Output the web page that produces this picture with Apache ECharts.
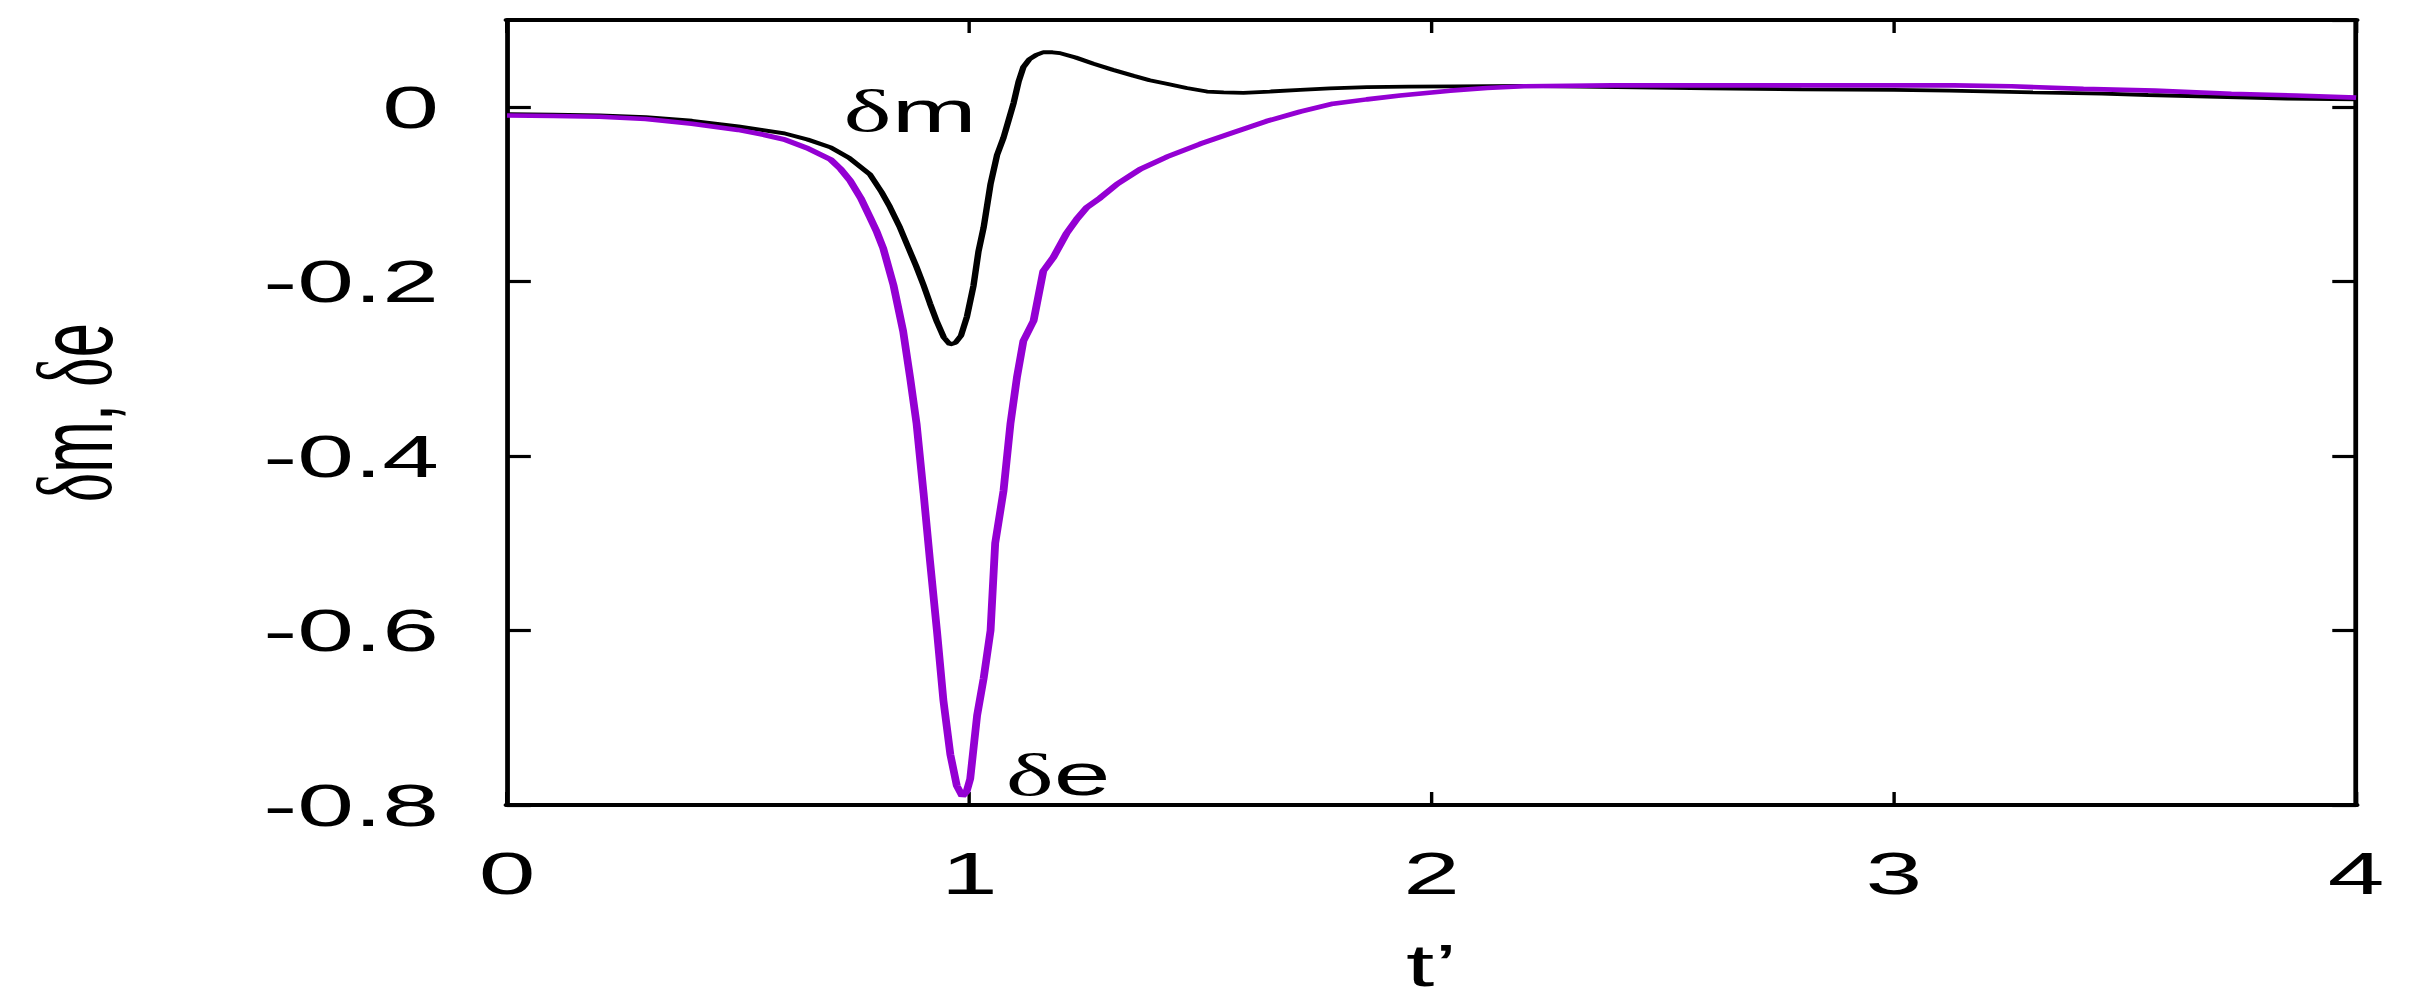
<!DOCTYPE html>
<html>
<head>
<meta charset="utf-8">
<title>dm de</title>
<script src="https://cdn.jsdelivr.net/npm/echarts@6.0.0/dist/echarts.min.js"></script>
<style>
  html, body { margin: 0; padding: 0; background: #fff; overflow: hidden; }
  /* the original figure is stretched horizontally, so we draw narrow and stretch */
  #chart { width: 1418px; height: 1007px; transform: scaleX(1.70028); transform-origin: 0 0; }
</style>
</head>
<body>
<div id="chart"></div>
<script>
// delta m (black curve)
const mTime = [0, 0.1, 0.2, 0.3, 0.4, 0.5, 0.55, 0.6, 0.65, 0.7, 0.74, 0.785, 0.81, 0.828, 0.85,
  0.865, 0.885, 0.901, 0.915, 0.93, 0.945, 0.958, 0.97, 0.982, 0.995, 1.009, 1.02, 1.031, 1.046,
  1.06, 1.074, 1.085, 1.096, 1.107, 1.117, 1.13, 1.145, 1.16, 1.18, 1.196, 1.23, 1.268, 1.31,
  1.355, 1.39, 1.427, 1.47, 1.514, 1.55, 1.593, 1.65, 1.716, 1.78, 1.86, 1.95, 2.05, 2.2, 2.4,
  2.6, 2.8, 3.0, 3.12, 3.3, 3.45, 3.55, 3.7, 3.85, 4.0];
const mValue = [-0.008, -0.0085, -0.0095, -0.0115, -0.0155, -0.022, -0.026, -0.030, -0.037, -0.046,
  -0.058, -0.077, -0.097, -0.114, -0.138, -0.157, -0.182, -0.204, -0.225, -0.246, -0.264, -0.272,
  -0.270, -0.262, -0.240, -0.205, -0.165, -0.138, -0.088, -0.055, -0.035, -0.015, 0.005, 0.030,
  0.046, 0.055, 0.060, 0.063, 0.063, 0.062, 0.057, 0.050, 0.043, 0.036, 0.031, 0.027, 0.022,
  0.018, 0.017, 0.0165, 0.018, 0.020, 0.0215, 0.023, 0.0235, 0.024, 0.0245, 0.023, 0.0215,
  0.0205, 0.020, 0.019, 0.017, 0.0155, 0.014, 0.012, 0.010, 0.009];

// delta e (purple curve)
const eTime = [0, 0.1, 0.2, 0.3, 0.4, 0.5, 0.55, 0.6, 0.65, 0.7, 0.722, 0.742, 0.765, 0.785, 0.8,
  0.814, 0.836, 0.857, 0.872, 0.886, 0.901, 0.915, 0.93, 0.944, 0.959, 0.973, 0.985, 0.994, 1.002,
  1.017, 1.031, 1.046, 1.056, 1.074, 1.089, 1.103, 1.117, 1.139, 1.16, 1.182, 1.21, 1.233, 1.254,
  1.283, 1.32, 1.37, 1.427, 1.5, 1.571, 1.643, 1.716, 1.787, 1.86, 1.932, 2.04, 2.12, 2.2, 2.39,
  2.6, 2.9, 3.13, 3.255, 3.41, 3.565, 3.73, 3.87, 4.0];
const eValue = [-0.0095, -0.010, -0.011, -0.0135, -0.019, -0.026, -0.031, -0.037, -0.047, -0.060,
  -0.071, -0.084, -0.104, -0.126, -0.143, -0.162, -0.204, -0.257, -0.310, -0.363, -0.442, -0.520,
  -0.600, -0.680, -0.742, -0.778, -0.790, -0.785, -0.770, -0.697, -0.655, -0.600, -0.500, -0.440,
  -0.363, -0.310, -0.268, -0.245, -0.188, -0.172, -0.145, -0.128, -0.115, -0.104, -0.088, -0.071,
  -0.057, -0.042, -0.029, -0.016, -0.005, 0.004, 0.009, 0.0135, 0.019, 0.022, 0.024, 0.025, 0.025,
  0.025, 0.025, 0.024, 0.021, 0.019, 0.0155, 0.0135, 0.011];

// curve labels, placed in data coordinates
const mLabelAt = [0.872, -0.004];
const eLabelAt = [1.192, -0.765];

const mData = mTime.map((t, i) => [t, mValue[i]]);
const eData = eTime.map((t, i) => [t, eValue[i]]);

const sans = 'Liberation Sans, Arial, Helvetica, sans-serif';
const serif = 'Liberation Serif, DejaVu Serif, serif';
const richGreek = {
  g: { fontFamily: serif, fontSize: 60, color: '#000' },
  s: { fontFamily: sans, fontSize: 60, color: '#000' }
};

const chart = echarts.init(document.getElementById('chart'), null, { renderer: 'svg' });

const curveLabel = (coord, text) => ({
  silent: true,
  symbol: 'circle',
  symbolSize: 1,
  itemStyle: { color: 'rgba(0,0,0,0)' },
  label: {
    show: true,
    position: 'inside',
    formatter: text,
    rich: richGreek
  },
  data: [{ coord: coord }]
});

const option = {
  animation: false,
  backgroundColor: '#fff',
  grid: { left: 298.2, right: 32.3, top: 20, bottom: 202 },
  xAxis: [
    {
      type: 'value',
      min: 0,
      max: 4,
      interval: 1,
      name: 't\u2019',
      nameLocation: 'middle',
      nameGap: 130,
      nameTextStyle: { fontFamily: sans, fontSize: 60, color: '#000' },
      axisLine: { show: true, onZero: false, lineStyle: { color: '#000', width: 4 } },
      axisTick: { show: true, inside: true, length: 13, lineStyle: { color: '#000', width: 2 } },
      axisLabel: { margin: 38, fontFamily: sans, fontSize: 60, color: '#000' },
      splitLine: { show: false }
    },
    {
      type: 'value',
      position: 'top',
      min: 0,
      max: 4,
      interval: 1,
      axisLine: { show: true, onZero: false, lineStyle: { color: '#000', width: 4 } },
      axisTick: { show: true, inside: true, length: 13, lineStyle: { color: '#000', width: 2 } },
      axisLabel: { show: false },
      splitLine: { show: false }
    }
  ],
  yAxis: [
    {
      type: 'value',
      min: -0.8,
      max: 0.1,
      interval: 0.2,
      name: '{g|\u03b4}{s|m, }{g|\u03b4}{s|e}',
      nameLocation: 'middle',
      nameRotate: 90,
      nameGap: 223,
      nameTextStyle: {
        fontFamily: sans,
        fontSize: 62,
        color: '#000',
        rich: {
          g: { fontFamily: serif, fontSize: 62, color: '#000' },
          s: { fontFamily: sans, fontSize: 62, color: '#000' }
        }
      },
      axisLine: { show: true, onZero: false, lineStyle: { color: '#000', width: 2.8 } },
      axisTick: { show: true, inside: true, length: 14, lineStyle: { color: '#000', width: 3.2 } },
      axisLabel: {
        margin: 40,
        fontFamily: sans,
        fontSize: 60,
        color: '#000',
        showMaxLabel: false,
        formatter: v => {
          const r = Math.round(v * 10) / 10;
          if (r > 0) return '';
          return r === 0 ? '0' : r.toFixed(1);
        }
      },
      splitLine: { show: false }
    },
    {
      type: 'value',
      position: 'right',
      min: -0.8,
      max: 0.1,
      interval: 0.2,
      axisLine: { show: true, onZero: false, lineStyle: { color: '#000', width: 2.8 } },
      axisTick: { show: true, inside: true, length: 14, lineStyle: { color: '#000', width: 3.2 } },
      axisLabel: { show: false },
      splitLine: { show: false }
    }
  ],
  series: [
    {
      name: 'dm',
      type: 'line',
      data: mData,
      showSymbol: false,
      symbol: 'none',
      lineStyle: { color: '#000000', width: 3.8 },
      markPoint: curveLabel(mLabelAt, '{g|\u03b4}{s|m}')
    },
    {
      name: 'de',
      type: 'line',
      data: eData,
      showSymbol: false,
      symbol: 'none',
      lineStyle: { color: '#9400d3', width: 4.6 },
      markPoint: curveLabel(eLabelAt, '{g|\u03b4}{s|e}')
    }
  ]
};

option && chart.setOption(option);
</script>
</body>
</html>
